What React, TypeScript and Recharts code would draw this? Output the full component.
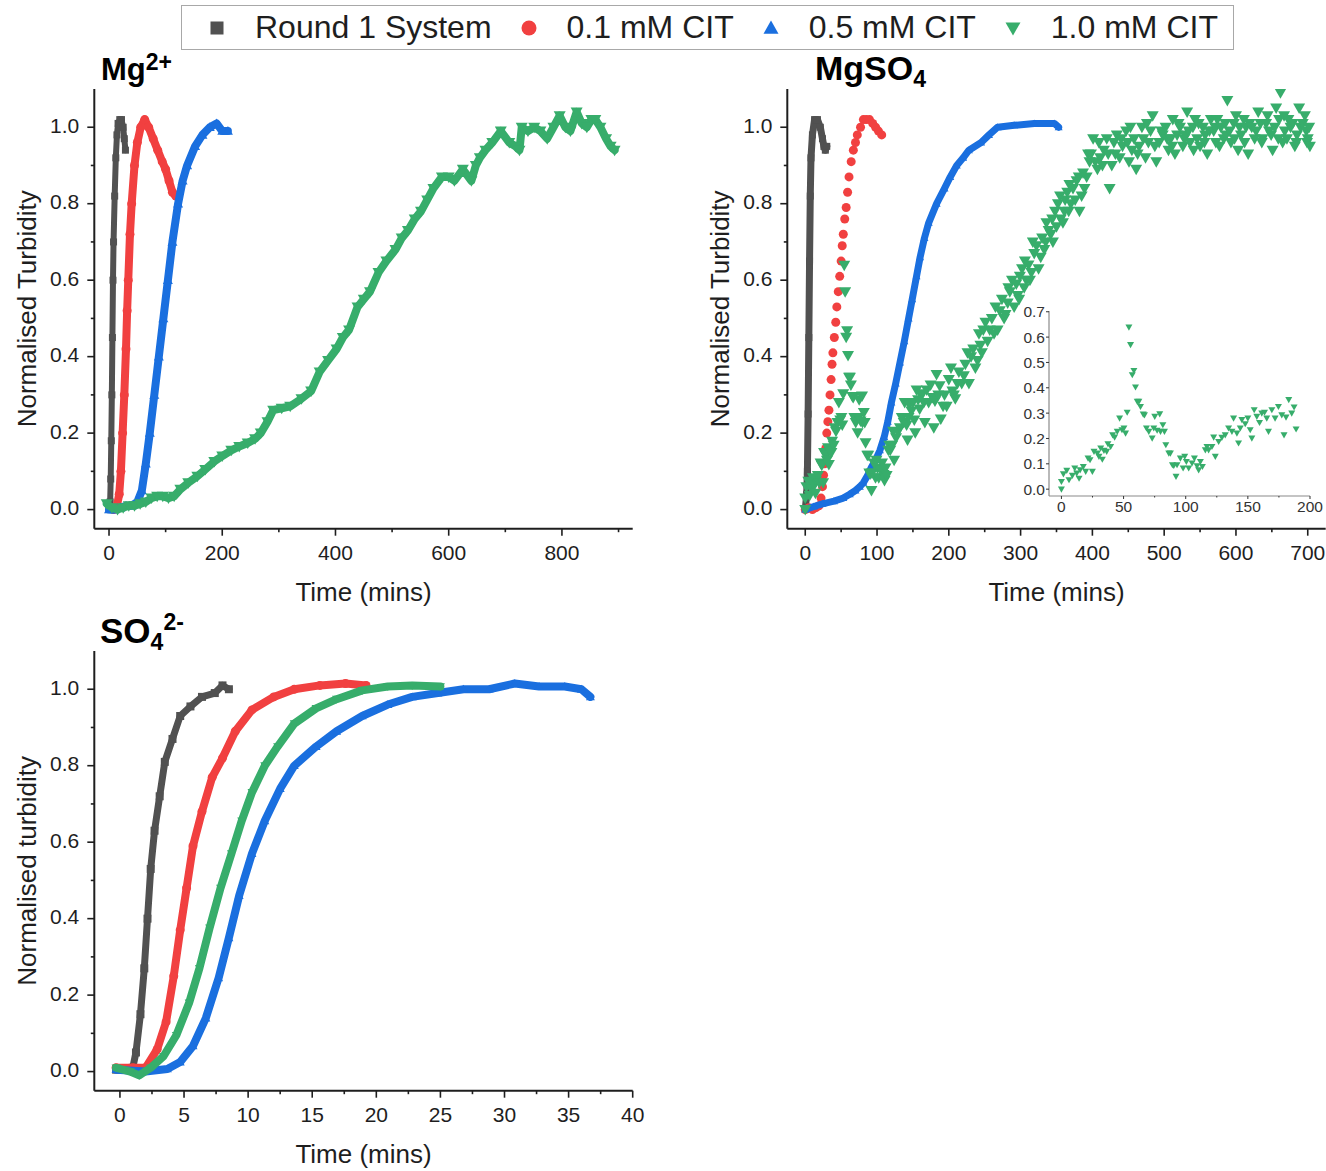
import React from "react";
import { ScatterChart, Scatter, XAxis, YAxis } from "recharts";

const FONT = "'Liberation Sans', Arial, Helvetica, sans-serif";
const INK = "#1e1e1e";

const GRAY = "#515151";
const RED = "#f14040";
const BLUE = "#1a6fdf";
const GREEN = "#37ad6b";

// legend
const seriesNames = ["Round 1 System", "0.1 mM CIT", "0.5 mM CIT", "1.0 mM CIT"];

// ---- Mg2+ : [time (mins), normalised turbidity]
const mgRound1 = [[0, 0], [2, 0.02], [3, 0.08], [4, 0.18], [5, 0.3], [6, 0.45], [7, 0.6], [8, 0.7], [10, 0.82], [12, 0.92], [14, 0.98], [16, 1.01], [19, 1.02], [22, 1.02], [25, 1.0], [27, 0.97], [29, 0.94]];
const mgCit01 = [[8, 0], [14, 0.01], [18, 0.04], [21, 0.1], [24, 0.2], [27, 0.3], [30, 0.42], [32, 0.52], [34, 0.6], [37, 0.72], [40, 0.8], [45, 0.9], [50, 0.96], [56, 1.0], [63, 1.02], [70, 1.0], [78, 0.97], [86, 0.94], [94, 0.91], [100, 0.89], [106, 0.86], [112, 0.83], [118, 0.82]];
const mgCit05 = [[0, 0], [10, 0.0], [20, 0.005], [30, 0.01], [40, 0.01], [50, 0.02], [58, 0.05], [65, 0.12], [72, 0.2], [80, 0.3], [88, 0.4], [96, 0.5], [104, 0.6], [112, 0.7], [122, 0.8], [130, 0.86], [138, 0.9], [152, 0.95], [165, 0.98], [178, 1.0], [190, 1.01], [200, 0.99], [210, 0.99]];
const mgCit10 = [[-4, 0.015], [5, 0.005], [15, 0.0], [25, 0.005], [35, 0.01], [45, 0.01], [55, 0.015], [65, 0.02], [75, 0.03], [85, 0.035], [95, 0.035], [105, 0.03], [115, 0.035], [126, 0.053], [140, 0.07], [156, 0.087], [170, 0.105], [186, 0.126], [200, 0.14], [216, 0.155], [230, 0.165], [245, 0.174], [258, 0.185], [268, 0.2], [280, 0.23], [290, 0.26], [305, 0.265], [320, 0.27], [340, 0.29], [357, 0.31], [372, 0.36], [387, 0.39], [402, 0.42], [413, 0.45], [424, 0.47], [439, 0.53], [450, 0.55], [461, 0.57], [476, 0.62], [490, 0.65], [506, 0.68], [517, 0.71], [528, 0.73], [540, 0.76], [551, 0.78], [562, 0.81], [573, 0.84], [588, 0.87], [600, 0.87], [610, 0.86], [625, 0.89], [640, 0.86], [648, 0.9], [655, 0.92], [665, 0.94], [677, 0.96], [692, 0.99], [707, 0.96], [718, 0.95], [725, 0.94], [729, 1.0], [740, 0.99], [751, 1.0], [762, 0.99], [774, 0.97], [785, 1.0], [796, 1.03], [806, 1.0], [815, 0.99], [826, 1.04], [835, 1.01], [844, 1.0], [852, 1.02], [859, 1.02], [868, 1.0], [878, 0.97], [886, 0.95], [893, 0.94]];

// ---- MgSO4
const msRound1 = [[0, 0.0], [2, 0.04], [3, 0.1], [4, 0.25], [5, 0.45], [6, 0.65], [7, 0.82], [8, 0.92], [10, 0.98], [13, 1.02], [17, 1.02], [21, 1.0], [24, 0.97], [26, 0.95], [28, 0.94], [30, 0.95]];
const msCit01 = [[0, 0], [5, 0.005], [10, 0], [15, 0.005], [19, 0.01], [22, 0.03], [24, 0.06], [25.5, 0.09], [27, 0.12], [28.5, 0.16], [30, 0.2], [31.5, 0.23], [33, 0.26], [34.5, 0.3], [36, 0.34], [37.3, 0.38], [38.5, 0.41], [40.5, 0.45], [42.5, 0.49], [44, 0.53], [46, 0.57], [48, 0.61], [50, 0.65], [51.5, 0.69], [53, 0.72], [55, 0.76], [57, 0.79], [59, 0.83], [61, 0.87], [64, 0.91], [67, 0.94], [70, 0.96], [72.5, 0.98], [77, 1.0], [81, 1.02], [85, 1.02], [89.5, 1.02], [94, 1.01], [98, 1.0], [102, 0.99], [106.5, 0.98]];
const msCit05 = [[0, 0], [12, 0.008], [24, 0.015], [40, 0.022], [53, 0.03], [62, 0.04], [70, 0.05], [76, 0.06], [81, 0.07], [87, 0.09], [92, 0.11], [98, 0.13], [104, 0.155], [110, 0.19], [115, 0.23], [120, 0.28], [126, 0.33], [132, 0.385], [138, 0.44], [144, 0.5], [149, 0.55], [155, 0.61], [160, 0.66], [166, 0.71], [172, 0.75], [183, 0.8], [194, 0.84], [202, 0.87], [211, 0.9], [220, 0.92], [228, 0.94], [245, 0.96], [256, 0.98], [268, 1.0], [291, 1.005], [319, 1.01], [347, 1.01], [353, 1.0]];
const msCit10 = [[0, 0.0], [0, 0.03], [1.6, 0.06], [4.3, 0.074], [6.1, 0.037], [8.8, 0.054], [10.7, 0.083], [12.3, 0.063], [14.2, 0.043], [15, 0.076], [17.6, 0.089], [19.5, 0.07], [21.4, 0.122], [23, 0.116], [24.9, 0.07], [26.2, 0.149], [28.9, 0.142], [30.2, 0.129], [31.6, 0.162], [32.9, 0.118], [34.2, 0.153], [36.4, 0.149], [37.4, 0.179], [39.6, 0.168], [41.2, 0.214], [42.8, 0.205], [44.9, 0.228], [46.8, 0.28], [48.7, 0.234], [50.3, 0.241], [51.6, 0.221], [52.9, 0.303], [54.3, 0.639], [55.6, 0.57], [57, 0.451], [58.3, 0.468], [59.6, 0.403], [61, 0.346], [62.3, 0.346], [63.6, 0.326], [65.8, 0.296], [66.8, 0.293], [68.4, 0.241], [70.3, 0.228], [73, 0.201], [74.3, 0.241], [75.1, 0.287], [77, 0.232], [79.1, 0.297], [79.7, 0.228], [81.6, 0.254], [82.9, 0.228], [84, 0.175], [86.4, 0.142], [87.7, 0.142], [89.3, 0.096], [90.4, 0.093], [92.2, 0.05], [93, 0.096], [95.7, 0.122], [97.9, 0.083], [99.2, 0.129], [100.5, 0.109], [102.4, 0.083], [105.1, 0.103], [107, 0.122], [109.1, 0.092], [110.4, 0.076], [111.8, 0.109], [113.4, 0.089], [115.8, 0.155], [117.1, 0.168], [118.4, 0.155], [121.1, 0.168], [122.5, 0.205], [123.8, 0.129], [126.5, 0.188], [129.1, 0.204], [131.8, 0.214], [134.5, 0.241], [137.2, 0.228], [138.5, 0.28], [141.2, 0.221], [142.5, 0.182], [143.9, 0.241], [145.2, 0.274], [147.9, 0.258], [150, 0.28], [151.9, 0.234], [153.2, 0.201], [155.1, 0.313], [157.2, 0.287], [159.4, 0.263], [161.2, 0.3], [163.4, 0.303], [165.2, 0.28], [166.6, 0.228], [169.3, 0.313], [171.9, 0.28], [174.6, 0.326], [177.3, 0.293], [179.1, 0.214], [180.7, 0.284], [182.9, 0.353], [185.3, 0.3], [187.2, 0.324], [188.8, 0.237],
  [192, 0.27], [194, 0.3], [197, 0.27], [200, 0.34], [203, 0.37], [205, 0.31], [207, 0.3], [209, 0.29], [212, 0.33], [214, 0.36], [218, 0.33], [221, 0.35], [223, 0.38], [226, 0.41], [228, 0.33], [231, 0.4], [234, 0.42], [237, 0.37], [240, 0.39], [242, 0.46], [244, 0.43], [246, 0.41], [248, 0.47], [251, 0.49], [254, 0.44], [257, 0.47], [260, 0.5], [263, 0.46], [265, 0.53], [268, 0.47], [271, 0.52], [274, 0.55], [277, 0.5], [279, 0.51], [282, 0.54], [283, 0.58], [285, 0.57], [288, 0.6], [291, 0.53], [294, 0.59], [296, 0.56], [298, 0.55], [299, 0.61], [302, 0.63], [305, 0.58], [306, 0.65], [308, 0.6], [311, 0.64], [313, 0.6], [315, 0.62], [317, 0.7], [319, 0.67], [322, 0.69], [325, 0.63], [328, 0.66], [330, 0.71], [333, 0.68], [335, 0.7], [336, 0.75], [339, 0.73], [342, 0.72], [344, 0.76], [345, 0.7], [348, 0.78], [350, 0.74], [352, 0.8], [355, 0.82], [356, 0.76], [359, 0.75], [361, 0.78], [362, 0.81], [365, 0.83], [367, 0.78], [368, 0.85], [370, 0.8], [373, 0.84], [376, 0.81], [378, 0.86], [381, 0.87], [382, 0.78], [385, 0.82], [387, 0.88], [389, 0.84], [392, 0.87], [394, 0.93], [396, 0.91], [398, 0.93], [401, 0.97], [404, 0.91], [407, 0.89], [409, 0.96], [411, 0.92], [414, 0.9], [416, 0.94], [420, 0.97], [422, 0.93], [424, 0.84], [427, 0.9], [430, 0.96], [432, 0.93], [434, 0.98], [438, 0.92], [440, 0.97], [442, 0.95], [447, 0.99], [449, 0.96], [451, 0.91], [453, 1.0], [455, 0.94], [458, 0.97], [461, 0.89], [463, 0.93], [465, 0.95], [469, 1.0], [471, 0.97], [474, 0.92], [476, 1.01], [478, 0.96], [481, 0.99], [484, 1.03], [487, 0.95], [489, 0.91], [493, 0.96], [496, 0.99], [498, 0.98], [502, 1.0], [504, 0.97], [506, 0.94], [509, 0.97], [511, 0.95], [512, 1.02], [515, 0.93], [518, 0.98], [520, 1.01], [522, 1.0], [526, 0.95], [528, 0.97], [529, 0.98], [532, 1.04], [534, 0.99], [536, 0.96], [540, 1.0], [541, 0.94], [543, 1.02], [546, 0.97], [548, 1.01], [550, 0.95], [554, 1.0], [556, 0.96], [557, 0.98], [560, 0.93], [563, 0.99], [565, 1.02], [569, 0.99], [571, 1.0], [572, 0.96], [574, 1.02], [577, 0.95], [579, 1.0], [583, 0.97], [585, 1.01], [586, 0.98], [588, 1.07], [591, 0.99], [593, 0.96], [597, 1.01], [598, 0.97], [600, 1.03], [603, 0.94], [605, 1.0], [607, 0.98], [611, 1.02], [612, 0.96], [614, 1.0], [617, 0.93], [619, 1.01], [622, 1.0], [626, 0.97], [628, 0.99], [631, 1.04], [634, 1.01], [636, 0.96], [637, 0.97], [642, 1.01], [644, 1.03], [646, 0.99], [649, 0.98], [651, 0.94], [654, 1.0], [656, 1.05], [659, 0.97], [660, 1.02], [662, 1.09], [665, 0.96], [667, 1.03], [668, 0.99], [671, 0.97], [673, 1.02], [676, 1.0], [679, 1.01], [682, 0.95], [684, 0.96], [685, 0.98], [688, 1.05], [690, 1.0], [693, 1.01], [696, 1.03], [698, 0.99], [699, 0.96], [700, 0.97], [702, 1.0], [703, 0.95]];

// ---- SO4 2-
const soRound1 = [[-0.3, 0.005], [0.5, 0.005], [1.0, 0.01], [1.25, 0.05], [1.6, 0.15], [1.9, 0.27], [2.15, 0.4], [2.4, 0.53], [2.7, 0.63], [3.1, 0.72], [3.5, 0.81], [4.1, 0.87], [4.7, 0.93], [5.5, 0.955], [6.4, 0.98], [7.4, 0.99], [8.0, 1.01], [8.5, 1.0]];
const soCit01 = [[-0.3, 0.01], [1, 0.01], [2, 0.01], [2.9, 0.058], [3.6, 0.13], [4.2, 0.25], [4.7, 0.37], [5.2, 0.48], [5.7, 0.59], [6.4, 0.68], [7.2, 0.77], [8.0, 0.82], [9.0, 0.89], [10.3, 0.946], [12.0, 0.98], [13.6, 1.0], [15.6, 1.01], [17.6, 1.015], [19.2, 1.01]];
const soCit05 = [[-0.3, 0.005], [2, 0.0], [3.7, 0.007], [4.7, 0.025], [5.7, 0.067], [6.7, 0.14], [7.7, 0.245], [8.5, 0.35], [9.3, 0.46], [10.3, 0.57], [11.3, 0.656], [12.5, 0.74], [13.6, 0.8], [15.3, 0.85], [16.9, 0.89], [18.9, 0.93], [20.9, 0.96], [22.8, 0.98], [24.8, 0.99], [26.8, 1.0], [28.8, 1.0], [30.8, 1.015], [32.7, 1.007], [34.7, 1.007], [36.0, 1.0], [36.7, 0.98]];
const soCit10 = [[-0.3, 0.01], [0.8, 0.0], [1.5, -0.01], [2.4, 0.01], [3.4, 0.04], [4.4, 0.095], [5.4, 0.18], [6.2, 0.27], [7.0, 0.376], [7.85, 0.48], [8.7, 0.57], [9.5, 0.656], [10.3, 0.73], [11.3, 0.8], [12.3, 0.85], [13.6, 0.91], [15.3, 0.95], [16.9, 0.974], [18.9, 0.997], [20.9, 1.007], [22.8, 1.01], [25.0, 1.007]];

const pts = (a: number[][]) => a.map(([x, y]) => ({ x, y }));

type Kind = "square" | "circle" | "up" | "down";

function Marker({ kind, cx, cy, size, color }: { kind: Kind; cx: number; cy: number; size: number; color: string }) {
  if (cx == null || cy == null) return <g />;
  const r = size / 2;
  if (kind === "square") return <rect x={cx - r} y={cy - r} width={size} height={size} fill={color} />;
  if (kind === "circle") return <circle cx={cx} cy={cy} r={r} fill={color} />;
  if (kind === "up")
    return <polygon points={`${cx},${cy - r} ${cx + r},${cy + r * 0.75} ${cx - r},${cy + r * 0.75}`} fill={color} />;
  return <polygon points={`${cx},${cy + r} ${cx + r},${cy - r * 0.75} ${cx - r},${cy - r * 0.75}`} fill={color} />;
}

const isMajor = (v: number, step: number) => Math.abs(v / step - Math.round(v / step)) < 1e-6;

type TickOpt = { len: number; minor: number; font: number; gap: number; color: string; stroke: number; base?: number };

const xTick = (step: number, fmt: (v: number) => string, o: TickOpt) => (p: any) => {
  const { x, y, payload } = p;
  const v = payload.value;
  const major = isMajor(v, step);
  const axis = y - o.len;
  return (
    <g>
      <line x1={x} x2={x} y1={axis} y2={axis + (major ? o.len : o.minor)} stroke={o.color} strokeWidth={o.stroke} />
      {major && (
        <text x={x} y={axis + o.gap} textAnchor="middle" fontSize={o.font} fill={o.color}>
          {fmt(v)}
        </text>
      )}
    </g>
  );
};

const yTick = (step: number, fmt: (v: number) => string, o: TickOpt) => (p: any) => {
  const { x, y, payload } = p;
  const v = payload.value;
  const major = isMajor(v, step);
  const axis = x + o.len;
  return (
    <g>
      <line x1={axis - (major ? o.len : o.minor)} x2={axis} y1={y} y2={y} stroke={o.color} strokeWidth={o.stroke} />
      {major && (
        <text x={axis - o.gap} y={y + (o.base ?? 5.5)} textAnchor="end" fontSize={o.font} fill={o.color}>
          {fmt(v)}
        </text>
      )}
    </g>
  );
};

const yTitle = (text: string) => (p: any) => {
  const vb = p.viewBox || { x: 0, y: 0, width: 0, height: 0 };
  const cx = vb.x + 27;
  const cy = vb.y + vb.height / 2;
  return (
    <text x={cx} y={cy} transform={`rotate(-90 ${cx} ${cy})`} textAnchor="middle" dominantBaseline="central" fontSize={26} fill={INK}>
      {text}
    </text>
  );
};

const xTitle = (text: string) => (p: any) => {
  const vb = p.viewBox || { x: 0, y: 0, width: 0, height: 0 };
  return (
    <text x={vb.x + vb.width / 2} y={vb.y + 63} textAnchor="middle" dominantBaseline="central" fontSize={26} fill={INK}>
      {text}
    </text>
  );
};

type Series = { name: string; data: number[][]; color: string; kind: Kind; size: number; lineWidth?: number };

const mainTicks: TickOpt = { len: 7, minor: 3.5, font: 21, gap: 31, color: INK, stroke: 1.6 };
const mainYTicks: TickOpt = { len: 7, minor: 3.5, font: 21, gap: 15, color: INK, stroke: 1.6 };
const yTickValues = [0, 0.1, 0.2, 0.3, 0.4, 0.5, 0.6, 0.7, 0.8, 0.9, 1.0];

function Panel(props: {
  left: number; top: number; width: number;
  xDomain: [number, number]; xTicks: number[]; xStep: number;
  yLabel: string; series: Series[];
}) {
  const { left, top, width, xDomain, xTicks, xStep, yLabel, series } = props;
  const axisLine = { stroke: INK, strokeWidth: 2 };
  return (
    <div style={{ position: "absolute", left, top }}>
      <ScatterChart width={width} height={580} margin={{ top: 50, right: width - 94.3 - 538.4, bottom: 0, left: 0 }}>
        <XAxis
          type="number" dataKey="x" domain={xDomain} allowDataOverflow ticks={xTicks} interval={0}
          height={90.3} tickSize={7} tickMargin={0} tickLine={false} axisLine={axisLine}
          tick={xTick(xStep, (v) => String(v), mainTicks)} label={xTitle("Time (mins)")}
        />
        <YAxis
          type="number" dataKey="y" domain={[-0.05, 1.1]} allowDataOverflow ticks={yTickValues} interval={0}
          width={94.3} tickSize={7} tickMargin={0} tickLine={false} axisLine={axisLine}
          tick={yTick(0.2, (v) => v.toFixed(1), mainYTicks)} label={yTitle(yLabel)}
        />
        <XAxis xAxisId="top" orientation="top" type="number" domain={xDomain} allowDataOverflow height={0} tick={false} tickLine={false} axisLine={axisLine} />
        <YAxis yAxisId="right" orientation="right" type="number" domain={[-0.05, 1.1]} allowDataOverflow width={0} tick={false} tickLine={false} axisLine={axisLine} />
        {series.map((s) => (
          <Scatter
            key={s.name}
            name={s.name}
            data={pts(s.data)}
            fill={s.color}
            isAnimationActive={false}
            line={s.lineWidth ? { stroke: s.color, strokeWidth: s.lineWidth, strokeLinejoin: "round", strokeLinecap: "round" } : false}
            lineType="joint"
            shape={(p: any) => <Marker kind={s.kind} cx={p.cx} cy={p.cy} size={s.size} color={s.color} />}
          />
        ))}
      </ScatterChart>
    </div>
  );
}

const insetTicks: TickOpt = { len: 3, minor: 1.5, font: 15.5, gap: 16, color: "#333", stroke: 1 };
const insetYTicks: TickOpt = { len: 3, minor: 1.5, font: 15.5, gap: 4, color: "#333", stroke: 1, base: 5.5 };

function Inset() {
  const frame = { stroke: "#8a8a8a", strokeWidth: 1.2 };
  const data = pts(msCit10.filter((p) => p[0] <= 190));
  return (
    <div style={{ position: "absolute", left: 1000, top: 290 }}>
      <ScatterChart width={326} height={240} margin={{ top: 21, right: 16, bottom: 0, left: 0 }}>
        <XAxis
          type="number" dataKey="x" domain={[-10, 200]} allowDataOverflow ticks={[0, 25, 50, 75, 100, 125, 150, 175, 200]} interval={0}
          height={34} tickSize={3} tickMargin={0} tickLine={false} axisLine={frame}
          tick={xTick(50, (v) => String(v), insetTicks)}
        />
        <YAxis
          type="number" dataKey="y" domain={[-0.027, 0.703]} allowDataOverflow ticks={[0, 0.1, 0.2, 0.3, 0.4, 0.5, 0.6, 0.7]} interval={0}
          width={49} tickSize={3} tickMargin={0} tickLine={false} axisLine={frame}
          tick={yTick(0.1, (v) => v.toFixed(1), insetYTicks)}
        />
        <XAxis xAxisId="top" orientation="top" type="number" domain={[-10, 200]} height={0} tick={false} tickLine={false} axisLine={frame} />
        <YAxis yAxisId="right" orientation="right" type="number" domain={[-0.027, 0.703]} width={0} tick={false} tickLine={false} axisLine={frame} />
        <Scatter
          name="1.0 mM CIT (inset)"
          data={data}
          fill={GREEN}
          isAnimationActive={false}
          shape={(p: any) => <Marker kind="down" cx={p.cx} cy={p.cy} size={7} color={GREEN} />}
        />
      </ScatterChart>
    </div>
  );
}

function Legend() {
  const items: { name: string; color: string; kind: Kind }[] = [
    { name: seriesNames[0], color: GRAY, kind: "square" },
    { name: seriesNames[1], color: RED, kind: "circle" },
    { name: seriesNames[2], color: BLUE, kind: "up" },
    { name: seriesNames[3], color: GREEN, kind: "down" },
  ];
  return (
    <div
      style={{
        position: "absolute", left: 181, top: 5, width: 1053, height: 45, boxSizing: "border-box",
        border: "1.5px solid #a8a8a8", display: "flex", alignItems: "center", paddingLeft: 27,
        fontSize: 32, color: INK, whiteSpace: "nowrap",
      }}
    >
      {items.map((it) => (
        <div key={it.name} style={{ display: "flex", alignItems: "center", marginRight: 29 }}>
          <svg width={16} height={16} style={{ display: "block" }}>
            <Marker kind={it.kind} cx={8} cy={8} size={it.kind === "square" ? 13 : 15} color={it.color} />
          </svg>
          <span style={{ marginLeft: 30 }}>{it.name}</span>
        </div>
      ))}
    </div>
  );
}

function Titles() {
  return (
    <svg width={1326} height={1171} style={{ position: "absolute", left: 0, top: 0, pointerEvents: "none" }}>
      <g fontWeight="bold" fill="#000">
        <text x={101} y={80} fontSize={31}>
          Mg<tspan fontSize={23} dy={-10}>2+</tspan>
        </text>
        <text x={815} y={80} fontSize={34}>
          MgSO<tspan fontSize={23} dy={7}>4</tspan>
        </text>
        <text x={100} y={643} fontSize={35}>
          SO<tspan fontSize={23} dy={7}>4</tspan>
          <tspan fontSize={23} dy={-20}>2-</tspan>
        </text>
      </g>
    </svg>
  );
}

export default function App() {
  const mgSeries: Series[] = [
    { name: seriesNames[0], data: mgRound1, color: GRAY, kind: "square", size: 7, lineWidth: 6 },
    { name: seriesNames[1], data: mgCit01, color: RED, kind: "circle", size: 9, lineWidth: 8 },
    { name: seriesNames[2], data: mgCit05, color: BLUE, kind: "up", size: 10, lineWidth: 8 },
    { name: seriesNames[3], data: mgCit10, color: GREEN, kind: "down", size: 12, lineWidth: 8 },
  ];
  const msSeries: Series[] = [
    { name: seriesNames[0], data: msRound1, color: GRAY, kind: "square", size: 7, lineWidth: 7 },
    { name: seriesNames[1], data: msCit01, color: RED, kind: "circle", size: 9 },
    { name: seriesNames[2], data: msCit05, color: BLUE, kind: "up", size: 8, lineWidth: 7 },
    { name: seriesNames[3], data: msCit10, color: GREEN, kind: "down", size: 12 },
  ];
  const soSeries: Series[] = [
    { name: seriesNames[0], data: soRound1, color: GRAY, kind: "square", size: 8, lineWidth: 7 },
    { name: seriesNames[1], data: soCit01, color: RED, kind: "circle", size: 9, lineWidth: 8 },
    { name: seriesNames[2], data: soCit05, color: BLUE, kind: "up", size: 9, lineWidth: 8 },
    { name: seriesNames[3], data: soCit10, color: GREEN, kind: "down", size: 9, lineWidth: 8 },
  ];
  return (
    <div
      style={{
        position: "absolute", left: 0, top: 0, width: 1326, height: 1171, overflow: "hidden",
        background: "#fff", fontFamily: FONT,
      }}
    >
      <Legend />
      <Panel left={0} top={39.3} width={660} xDomain={[-26, 925]} xTicks={[0, 100, 200, 300, 400, 500, 600, 700, 800, 900]} xStep={200} yLabel="Normalised Turbidity" series={mgSeries} />
      <Panel left={693.4} top={39.3} width={632.6} xDomain={[-25, 725]} xTicks={[0, 50, 100, 150, 200, 250, 300, 350, 400, 450, 500, 550, 600, 650, 700]} xStep={100} yLabel="Normalised Turbidity" series={msSeries} />
      <Panel left={0} top={601} width={660} xDomain={[-2, 40]} xTicks={[0, 2.5, 5, 7.5, 10, 12.5, 15, 17.5, 20, 22.5, 25, 27.5, 30, 32.5, 35, 37.5, 40]} xStep={5} yLabel="Normalised turbidity" series={soSeries} />
      <Inset />
      <Titles />
    </div>
  );
}
